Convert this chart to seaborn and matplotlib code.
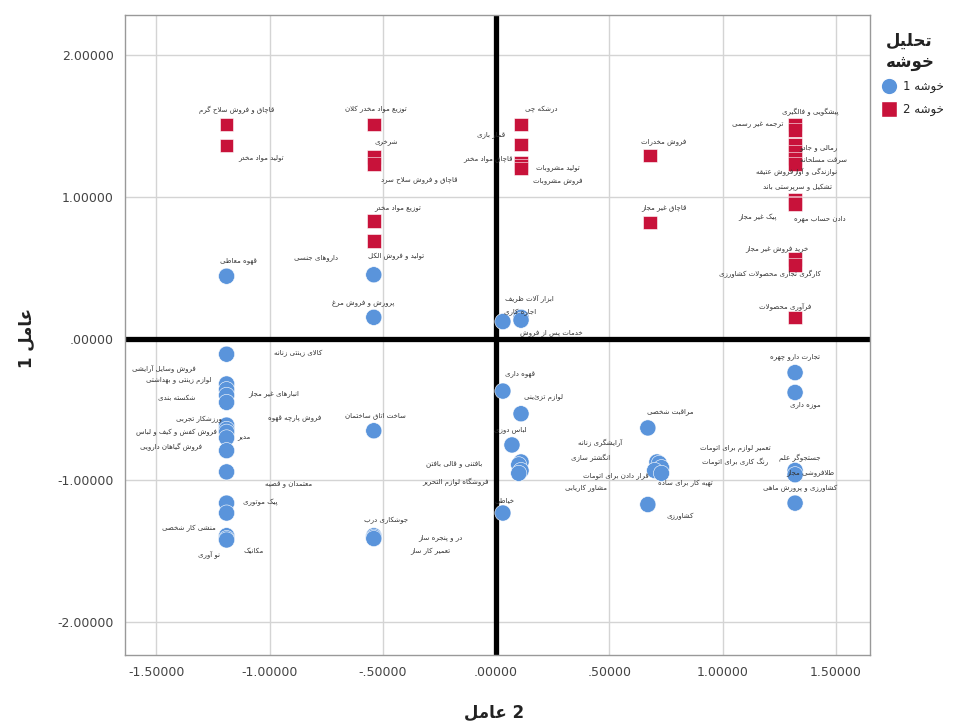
import matplotlib
matplotlib.use("Agg")
import matplotlib.pyplot as plt
import seaborn as sns
import pandas as pd
from matplotlib.ticker import FuncFormatter, FixedLocator
from matplotlib.lines import Line2D

# ---------------- data ----------------
labels = [
    # cluster 2 (red squares)
    "قاچاق و فروش سلاح گرم", "تولید مواد مخدر", "توزیع مواد مخدر کلان", "شرخری",
    "قاچاق و فروش سلاح سرد", "توزیع مواد مخدر", "تولید و فروش الکل", "درشکه چی",
    "قمار بازی", "قاچاق مواد مخدر", "تولید مشروبات", "فروش مشروبات",
    "فروش مخدرات", "قاچاق غیر مجاز", "پیشگویی و فالگیری", "ترجمه غیر رسمی",
    "رمالی و جادو", "سرقت مسلحانه", "نوازندگی و آواز", "فروش عتیقه",
    "تشکیل و سرپرستی باند", "پیک غیر مجاز", "دادن حساب مهره", "خرید فروش غیر مجاز",
    "کارگری تجاری محصولات کشاورزی", "فرآوری محصولات",
    # cluster 1 (blue circles)
    "قهوه معاطی", "داروهای جنسی", "پرورش و فروش مرغ", "ابزار آلات ظریف",
    "اجاره کاری", "خدمات پس از فروش", "کالای زینتی زنانه", "فروش وسایل آرایشی",
    "لوازم زینتی و بهداشتی", "انبارهای غیر مجاز", "شکسته بندی", "فروش پارچه قهوه",
    "ورزشکار تجربی", "فروش کفش و کیف و لباس", "مدیر", "فروش گیاهان دارویی",
    "معتمدان و قضیه", "پیک موتوری", "", "منشی کار شخصی",
    "مکانیک", "نو آوری", "ساخت اتاق ساختمان", "جوشکاری درب",
    "در و پنجره ساز", "تعمیر کار ساز", "قهوه داری", "لوازم تزئینی",
    "لباس دوزی", "انگشتر سازی", "بافتنی و قالی بافتن", "مشاور کاریابی",
    "فروشگاه لوازم التحریر", "خیاطی", "مراقبت شخصی", "آرایشگری زنانه",
    "تعمیر لوازم برای اتومات", "رنگ کاری برای اتومات", "قرار دادن برای اتومات", "تهیه کار برای ساده",
    "کشاورزی", "تجارت دارو چهره", "موزه داری", "جستجوگر علم",
    "طلافروشی مجاز", "کشاورزی و پرورش ماهی",
]
factor2 = [
    -1.19, -1.19, -0.54, -0.54, -0.54, -0.54, -0.54, 0.11,
    0.11, 0.11, 0.11, 0.11, 0.68, 0.68, 1.32, 1.32,
    1.32, 1.32, 1.32, 1.32, 1.32, 1.32, 1.32, 1.32,
    1.32, 1.32,
    -1.19, -0.54, -0.54, 0.11, 0.03, 0.11, -1.19, -1.19,
    -1.19, -1.19, -1.19, -1.19, -1.19, -1.19, -1.19, -1.19,
    -1.19, -1.19, -1.19, -1.19, -1.19, -1.19, -0.54, -0.54,
    -0.54, -0.54, 0.03, 0.11, 0.07, 0.11, 0.10, 0.11,
    0.10, 0.03, 0.67, 0.71, 0.72, 0.73, 0.70, 0.73,
    0.67, 1.32, 1.32, 1.32, 1.32, 1.32,
]
factor1 = [
    1.51, 1.36, 1.51, 1.28, 1.23, 0.83, 0.69, 1.51,
    1.37, 1.24, 1.22, 1.20, 1.29, 0.82, 1.51, 1.47,
    1.37, 1.32, 1.27, 1.23, 0.98, 0.96, 0.95, 0.56,
    0.52, 0.15,
    0.44, 0.45, 0.15, 0.15, 0.12, 0.13, -0.11, -0.32,
    -0.36, -0.40, -0.45, -0.61, -0.64, -0.66, -0.70, -0.79,
    -0.94, -1.16, -1.23, -1.39, -1.41, -1.42, -0.65, -1.39,
    -1.40, -1.41, -0.37, -0.53, -0.75, -0.87, -0.89, -0.93,
    -0.95, -1.23, -0.63, -0.87, -0.88, -0.91, -0.93, -0.95,
    -1.17, -0.24, -0.38, -0.93, -0.96, -1.16,
]
cluster = ["خوشه 2"] * 26 + ["خوشه 1"] * 46

# label placement (offset in pixels from its point) - layout only
label_offsets = [
    (10, 15), (34, -12), (2, 15), (12, 14), (45, -15), (24, 13), (22, -16), (20, 15),
    (-30, 10), (-33, 4), (37, -2), (37, -12), (14, 14), (14, 15), (15, 12), (-37, 5),
    (23, -3), (28, -8), (20, -13), (-20, -9), (2, 12), (-38, -15), (25, -15), (-18, 11),
    (-25, -9), (-10, 11),
    (12, 16), (-58, 17), (-11, 14), (8, 19), (17, 9), (30, -12), (72, 1), (-63, 16),
    (-48, 9), (47, 2), (-50, 4), (68, 8), (-28, 10), (-50, 0), (17, 1), (-56, 4),
    (62, -12), (34, 1), (0, 0), (-38, 7), (27, -13), (-18, -14), (2, 15), (12, 15),
    (67, 0), (57, -13), (17, 17), (22, 16), (-2, 15), (70, 4), (-65, 1), (65, -18),
    (-63, -9), (2, 13), (22, 16), (-57, 19), (76, 15), (74, 6), (-39, -5), (24, -10),
    (32, -12), (0, 16), (10, -12), (5, 13), (15, 2), (5, 15),
]

x_ticks = [-1.5, -1.0, -0.5, 0.0, 0.5, 1.0, 1.5]
y_ticks = [-2.0, -1.0, 0.0, 1.0, 2.0]
x_title = "2 عامل"
y_title = "عامل 1"
legend_title = ["تحلیل", "خوشه"]
cluster_order = ["خوشه 1", "خوشه 2"]

# ---------------- simple Persian shaping for display ----------------
_F = {
    'ا': ('\uFE8D', '\uFE8E', None, None), 'آ': ('\uFE81', '\uFE82', None, None),
    'ب': ('\uFE8F', '\uFE90', '\uFE91', '\uFE92'), 'پ': ('\uFB56', '\uFB57', '\uFB58', '\uFB59'),
    'ت': ('\uFE95', '\uFE96', '\uFE97', '\uFE98'), 'ث': ('\uFE99', '\uFE9A', '\uFE9B', '\uFE9C'),
    'ج': ('\uFE9D', '\uFE9E', '\uFE9F', '\uFEA0'), 'چ': ('\uFB7A', '\uFB7B', '\uFB7C', '\uFB7D'),
    'ح': ('\uFEA1', '\uFEA2', '\uFEA3', '\uFEA4'), 'خ': ('\uFEA5', '\uFEA6', '\uFEA7', '\uFEA8'),
    'د': ('\uFEA9', '\uFEAA', None, None), 'ذ': ('\uFEAB', '\uFEAC', None, None),
    'ر': ('\uFEAD', '\uFEAE', None, None), 'ز': ('\uFEAF', '\uFEB0', None, None),
    'ژ': ('\uFB8A', '\uFB8B', None, None),
    'س': ('\uFEB1', '\uFEB2', '\uFEB3', '\uFEB4'), 'ش': ('\uFEB5', '\uFEB6', '\uFEB7', '\uFEB8'),
    'ص': ('\uFEB9', '\uFEBA', '\uFEBB', '\uFEBC'), 'ض': ('\uFEBD', '\uFEBE', '\uFEBF', '\uFEC0'),
    'ط': ('\uFEC1', '\uFEC2', '\uFEC3', '\uFEC4'), 'ظ': ('\uFEC5', '\uFEC6', '\uFEC7', '\uFEC8'),
    'ع': ('\uFEC9', '\uFECA', '\uFECB', '\uFECC'), 'غ': ('\uFECD', '\uFECE', '\uFECF', '\uFED0'),
    'ف': ('\uFED1', '\uFED2', '\uFED3', '\uFED4'), 'ق': ('\uFED5', '\uFED6', '\uFED7', '\uFED8'),
    'ک': ('\uFB8E', '\uFB8F', '\uFB90', '\uFB91'), 'گ': ('\uFB92', '\uFB93', '\uFB94', '\uFB95'),
    'ل': ('\uFEDD', '\uFEDE', '\uFEDF', '\uFEE0'), 'م': ('\uFEE1', '\uFEE2', '\uFEE3', '\uFEE4'),
    'ن': ('\uFEE5', '\uFEE6', '\uFEE7', '\uFEE8'), 'و': ('\uFEED', '\uFEEE', None, None),
    'ه': ('\uFEE9', '\uFEEA', '\uFEEB', '\uFEEC'), 'ی': ('\uFBFC', '\uFBFD', '\uFBFE', '\uFBFF'),
}


def shape(text):
    chars = list(text)
    out = []
    i = 0
    n = len(chars)
    while i < n:
        c = chars[i]
        if c not in _F:
            if c != '\u200c':
                out.append(c)
            i += 1
            continue
        prev = chars[i - 1] if i > 0 else None
        join_prev = prev in _F and _F[prev][2] is not None
        nxt = chars[i + 1] if i + 1 < n else None
        if c == 'ل' and nxt in ('ا', 'آ'):
            lig = ('\uFEFB', '\uFEFC') if nxt == 'ا' else ('\uFEF5', '\uFEF6')
            out.append(lig[1] if join_prev else lig[0])
            i += 2
            continue
        join_next = nxt in _F and _F[c][2] is not None
        iso, fin, ini, med = _F[c]
        if join_prev and join_next:
            out.append(med)
        elif join_prev:
            out.append(fin)
        elif join_next:
            out.append(ini)
        else:
            out.append(iso)
        i += 1
    s = ''.join(out)[::-1]
    res, run = [], []
    for ch in s:
        if ch.isascii() and (ch.isalnum() or ch in '.'):
            run.append(ch)
        else:
            if run:
                res.append(''.join(run[::-1]))
                run = []
            res.append(ch)
    if run:
        res.append(''.join(run[::-1]))
    return ''.join(res)


# ---------------- plot ----------------
sns.set_theme(style="whitegrid")
plt.rcParams['font.family'] = ['DejaVu Sans']

df = pd.DataFrame({"factor2": factor2, "factor1": factor1, "cluster": cluster, "label": labels})

fig = plt.figure(figsize=(9.59, 7.26), dpi=100)
ax = fig.add_axes([0.130, 0.098, 0.777, 0.881])

blue = "#5A94DB"
red = "#C8123A"
palette = {"خوشه 1": blue, "خوشه 2": red}
markers = {"خوشه 1": "o", "خوشه 2": "s"}
sizes = {"خوشه 1": 135, "خوشه 2": 95}

sns.scatterplot(data=df, x="factor2", y="factor1", hue="cluster", style="cluster",
                size="cluster", hue_order=cluster_order,
                palette=palette, markers=markers, sizes=sizes,
                edgecolor="white", linewidth=0.4, ax=ax, zorder=3, legend=False)

ax.axhline(0, color="black", lw=3.8, zorder=2)
ax.axvline(0, color="black", lw=3.8, zorder=2)

for lab, xv, yv, off in zip(labels, factor2, factor1, label_offsets):
    if not lab:
        continue
    ax.annotate(shape(lab), (xv, yv), xytext=off, textcoords="offset pixels",
                ha="center", va="center", fontsize=5, color="#333333", zorder=4)

ax.set_xlim(-1.64, 1.65)
ax.set_ylim(-2.23, 2.28)
ax.xaxis.set_major_locator(FixedLocator(x_ticks))
ax.yaxis.set_major_locator(FixedLocator(y_ticks))


def spss_fmt(v, pos):
    if abs(v) < 1e-9:
        return ".00000"
    s = f"{v:.5f}"
    s = s.replace("-0.", "-.")
    if s.startswith("0."):
        s = s[1:]
    return s


ax.xaxis.set_major_formatter(FuncFormatter(spss_fmt))
ax.yaxis.set_major_formatter(FuncFormatter(spss_fmt))
ax.tick_params(axis="both", labelsize=9, colors="#444444", length=0, pad=8)
ax.grid(True, color="#d4d4d4", lw=1.0)
for sp in ax.spines.values():
    sp.set_color("#999999")
    sp.set_linewidth(1.0)

ax.set_xlabel("")
ax.set_ylabel("")
fig.text(0.515, 0.018, shape(x_title), ha="center", va="center", fontsize=12,
         fontweight="bold", color="#222222")
fig.text(0.028, 0.535, shape(y_title), ha="center", va="center", fontsize=12,
         fontweight="bold", color="#222222", rotation=90)

# legend
handles = [
    Line2D([], [], marker=markers[c], ls="", markerfacecolor=palette[c],
           markeredgecolor="white", markersize=12 if markers[c] == "o" else 11)
    for c in cluster_order
]
leg = ax.legend(handles, [shape(c) for c in cluster_order],
                title="\n".join(shape(t) for t in legend_title),
                loc="upper left", bbox_to_anchor=(1.0, 0.985), frameon=False,
                fontsize=8.5, title_fontsize=12, handletextpad=0.2, labelspacing=0.8,
                borderaxespad=0.2)
leg.get_title().set_fontweight("bold")
leg.get_title().set_color("#222222")
leg._legend_box.align = "center"

fig.savefig("out.png", dpi=100)
